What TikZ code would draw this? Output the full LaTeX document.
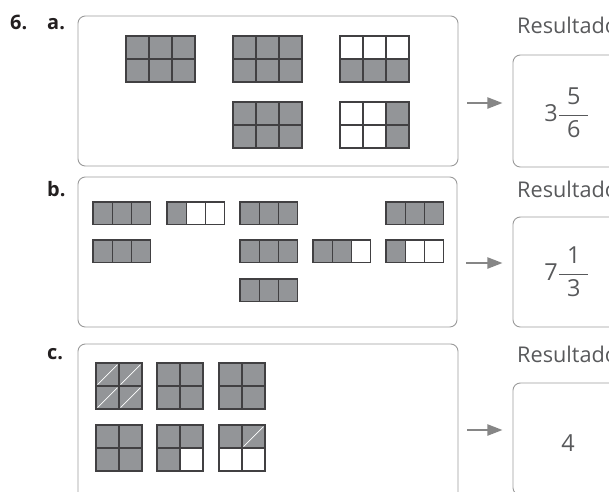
\documentclass[tikz,border=0pt]{standalone}
\usepackage{amsmath}
\usepackage{fontspec}
\setmainfont{Open Sans}
\usetikzlibrary{positioning, arrows.meta, calc}

\definecolor{shade}{HTML}{939598}
\definecolor{edge}{HTML}{414042}
\definecolor{frame}{HTML}{9D9D9D}
\definecolor{ink}{HTML}{58595B}
\definecolor{mark}{HTML}{231F20}

% mixed number: whole, numerator, denominator
\newcommand{\mixnum}[3]{#1$\genfrac{}{}{0.6pt}{0}{\text{\makebox[1.25em]{#2}}}{\text{\makebox[1.25em]{#3}}}$}

\begin{document}
\begin{tikzpicture}[
    x=0.03cm, y=-0.03cm,
    panel/.style={
        draw=frame, line width=0.8pt, rounded corners=0.22cm,
        minimum width=11.4cm, minimum height=4.5cm
    },
    result/.style={
        draw=frame, line width=0.8pt, rounded corners=0.22cm,
        minimum width=4.5cm, minimum height=3.36cm
    },
    tag/.style={font=\fontsize{17}{20}\selectfont\bfseries, text=mark, anchor=base west, inner sep=0pt},
    caption/.style={font=\fontsize{18.5}{22}\selectfont, text=ink, anchor=base west, inner sep=0pt},
    value/.style={font=\fontsize{20}{24}\selectfont, text=ink, inner sep=0pt},
    cellon/.style={fill=shade, draw=edge, line width=0.9pt},
    celloff/.style={fill=white, draw=edge, line width=0.9pt},
    slash/.style={draw=white, line width=0.6pt},
    feed/.style={-{Triangle[length=13pt, width=9.5pt]}, draw=gray!95, line width=1.8pt,
        shorten <=0.27cm, shorten >=0.3cm},
]
\useasboundingbox (0,0) rectangle (609,491);
\clip (0,0) rectangle (609,491);

% =====================================================================
%  a.
% =====================================================================
\node[tag] (n6) at (10,29) {6.};
\node[tag] (la) at (47,29) {a.};
\node[panel] (pa) at (268,91) {};
\node[caption] (ca) at (517,33) {Resultado};
\node[result] (ra) at (588,111) {};
\node[value] (va) at (567,113) {\mixnum{3}{5}{6}};

% 3x2 grids, all shaded first
\foreach \gx/\gy in {126/36, 233/36, 340/36, 233/102, 340/102}
  \foreach \c in {0,1,2}
    \foreach \r in {0,1}
      \draw[cellon] ({\gx+23*\c},{\gy+23*\r}) rectangle ++(23,23);
% blank cells
\foreach \gx/\gy/\c/\r in {340/36/0/0, 340/36/1/0, 340/36/2/0,
    340/102/0/0, 340/102/1/0, 340/102/0/1, 340/102/1/1}
  \draw[celloff] ({\gx+23*\c},{\gy+23*\r}) rectangle ++(23,23);

\coordinate (ta) at ($(ra.west)+(0,-8)$);
\draw[feed] (pa.east |- ta) -- (ta);

% =====================================================================
%  b.
% =====================================================================
\node[tag] (lb) at (47,196) {b.};
\node[panel, minimum width=11.37cm] (pb) at (267.5,252) {};
\node[caption] (cb) at (517,197) {Resultado};
\node[result, minimum height=3.3cm] (rb) at (588,272) {};
\node[value] (vb) at (567,272) {\mixnum{7}{1}{3}};

% strips of thirds
\foreach \gx/\gy in {93/202, 167/202, 240/202, 386/202,
    93/240, 240/240, 313/240, 386/240, 240/279}
  \foreach \c in {0,1,2}
    \draw[cellon] ({\gx+19.3*\c},\gy) rectangle ++(19.3,22.5);
\foreach \gx/\gy/\c in {167/202/1, 167/202/2, 313/240/2, 386/240/1, 386/240/2}
  \draw[celloff] ({\gx+19.3*\c},\gy) rectangle ++(19.3,22.5);

\coordinate (tb) at ($(rb.west)+(0,-9)$);
\draw[feed] (pb.east |- tb) -- (tb);

% =====================================================================
%  c.
% =====================================================================
\node[tag] (lc) at (47,359) {c.};
\node[panel, minimum height=4.8cm] (pc) at (268,424) {};
\node[caption] (cc) at (517,362) {Resultado};
\node[result] (rc) at (588,439) {};
\node[value] (vc) at (568,443) {4};

% 2x2 grids
\foreach \gx/\gy in {96/363, 157/363, 219/363, 96/425, 157/425, 219/425}
  \foreach \c in {0,1}
    \foreach \r in {0,1}
      \draw[cellon] ({\gx+23*\c},{\gy+23*\r}) rectangle ++(23,23);
\foreach \gx/\gy/\c/\r in {157/425/1/1, 219/425/0/1, 219/425/1/1}
  \draw[celloff] ({\gx+23*\c},{\gy+23*\r}) rectangle ++(23,23);
% halved cells
\foreach \gx/\gy/\c/\r in {96/363/0/0, 96/363/1/0, 96/363/0/1, 96/363/1/1, 219/425/1/0}
  \draw[slash] ({\gx+23*\c+1.5},{\gy+23*\r+21.5}) -- ++(20,-20);

\coordinate (tc) at ($(rc.west)+(0,-9)$);
\draw[feed] (pc.east |- tc) -- (tc);

\end{tikzpicture}
\end{document}
